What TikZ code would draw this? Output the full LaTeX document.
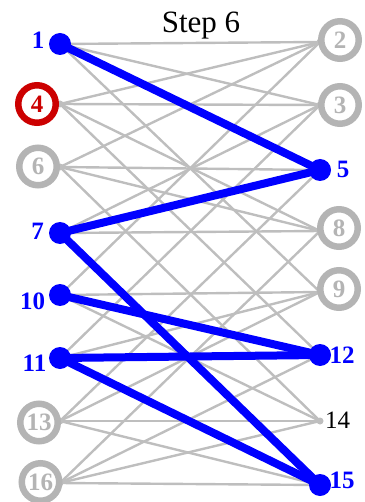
\documentclass[tikz,border=0pt]{standalone}
\usepackage{fontspec}
\setmainfont{Liberation Serif}
\newfontfamily\tnr{Liberation Serif}
\definecolor{edgegray}{RGB}{190,190,190}
\definecolor{ringgray}{RGB}{180,180,180}
\definecolor{matchblue}{RGB}{0,0,255}
\definecolor{curred}{RGB}{204,0,0}
\pgfdeclarelayer{bg}
\pgfsetlayers{bg,main}
\tikzset{
  dotblue/.style={circle, fill=matchblue, inner sep=0pt, minimum size=22pt},
  dotgray/.style={circle, fill=edgegray, inner sep=0pt, minimum size=7pt},
  gedge/.style={draw=edgegray, line width=2.4pt},
  bedge/.style={draw=matchblue, line width=8pt},
  lblfont/.style={font=\tnr\fontsize{25}{25}\selectfont\bfseries},
  blab/.style={lblfont, text=matchblue, inner sep=0pt},
  plab/.style={font=\tnr\fontsize{25}{25}\selectfont, text=black, inner sep=0pt},
  ringlab/.style={circle, draw=ringgray, line width=6.5pt, fill=white, minimum size=37.5pt, inner sep=0pt, text=ringgray, lblfont},
  ringred/.style={ringlab, draw=curred, text=curred},
}
\begin{document}
\begin{tikzpicture}[x=1pt, y=-1pt]
\useasboundingbox (0,0) rectangle (364,502);
% title
\node[font=\tnr\fontsize{31}{31}\selectfont, anchor=base, inner sep=0pt] (title) at (201,33) {Step 6};
% left dots
\node[dotblue] (v1) at (60,44) {};
\node[dotgray] (v4) at (60,104) {};
\node[dotgray] (v6) at (60,167) {};
\node[dotblue] (v7) at (60,233) {};
\node[dotblue] (v10) at (60,295) {};
\node[dotblue] (v11) at (60,358) {};
\node[dotgray] (v13) at (60,421) {};
\node[dotgray] (v16) at (60,483) {};
% right dots
\node[dotgray] (v2) at (320,42) {};
\node[dotgray] (v3) at (320,105) {};
\node[dotblue] (v5) at (320,170) {};
\node[dotgray] (v8) at (320,231) {};
\node[dotgray] (v9) at (320,292) {};
\node[dotblue] (v12) at (320,355) {};
\node[dotgray] (v14) at (320,421) {};
\node[dotblue] (v15) at (320,485) {};
% edges
\begin{pgfonlayer}{bg}
\foreach \a/\b in {1/2,1/3,1/9,4/3,4/2,4/8,4/12,6/5,6/8,6/2,6/14,7/8,7/3,10/9,10/14,10/2,11/9,11/3,13/14,13/15,13/9,13/5,16/15,16/14,16/12,16/8}
  \draw[gedge] (v\a.center) -- (v\b.center);
\foreach \a/\b in {1/5,7/5,7/15,10/12,11/12,11/15}
  \draw[bedge] (v\a.center) -- (v\b.center);
\end{pgfonlayer}
% labels
\node[blab] (l1) at (38,40) {1};
\node[blab] (l7) at (37.5,231) {7};
\node[blab] (l10) at (32.5,301) {10};
\node[blab] (l11) at (34.5,363) {11};
\node[blab] (l5) at (343,169) {5};
\node[blab] (l12) at (342,355) {12};
\node[blab] (l15) at (342,480) {15};
\node[plab] (l14) at (337.5,420) {14};
\node[ringred] (l4) at (37,104) {4};
\node[ringlab] (l6) at (38,166.5) {6};
\node[ringlab] (l13) at (39,422.5) {13};
\node[ringlab] (l16) at (40.5,482) {16};
\node[ringlab] (l2) at (340,40) {2};
\node[ringlab] (l3) at (340,105) {3};
\node[ringlab] (l8) at (339,228) {8};
\node[ringlab] (l9) at (339,289) {9};
\end{tikzpicture}
\end{document}
